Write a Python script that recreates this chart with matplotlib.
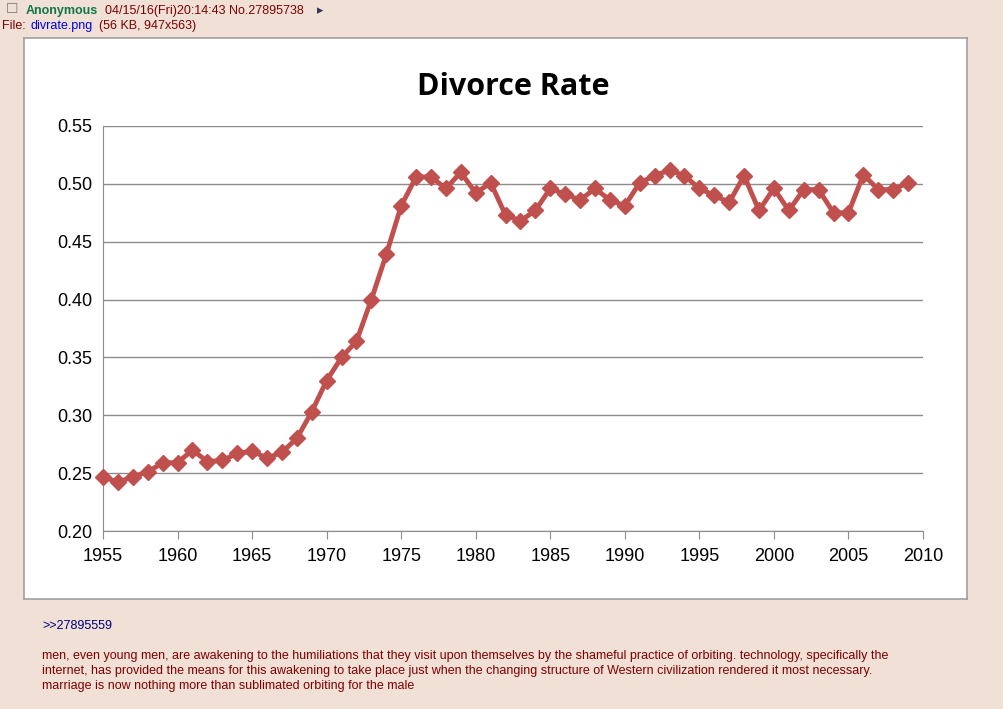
import matplotlib.pyplot as plt

years = list(range(1955, 2010))
rates = [0.247, 0.242, 0.247, 0.251, 0.259, 0.259, 0.270, 0.260, 0.261, 0.267,
         0.269, 0.263, 0.268, 0.280, 0.303, 0.330, 0.350, 0.364, 0.400, 0.439,
         0.481, 0.506, 0.506, 0.496, 0.510, 0.492, 0.501, 0.473, 0.468, 0.477,
         0.496, 0.491, 0.486, 0.496, 0.486, 0.481, 0.501, 0.507, 0.512, 0.507,
         0.496, 0.490, 0.484, 0.507, 0.477, 0.496, 0.477, 0.495, 0.495, 0.475,
         0.475, 0.508, 0.495, 0.495, 0.501]
x_ticks = list(range(1955, 2011, 5))
y_ticks = [0.20, 0.25, 0.30, 0.35, 0.40, 0.45, 0.50, 0.55]

W, H = 1004, 709
plt.rcParams['font.family'] = 'Liberation Sans'
fig = plt.figure(figsize=(W / 100, H / 100), dpi=100, facecolor='#F0E0D6')

# white image box of the attached chart (drawn as a background axes)
box = fig.add_axes([24 / W, 1 - 599 / H, 943 / W, 561 / H])
box.set_xticks([])
box.set_yticks([])
box.set_facecolor('white')
for s in box.spines.values():
    s.set_color('#A0A0A0')
    s.set_linewidth(1.2)

ax = fig.add_axes([103 / W, 1 - 531 / H, 820 / W, 405 / H])
ax.set_facecolor('none')
ax.plot(years, rates, color='#C0504D', linewidth=3.5, marker='D',
        markersize=8, markerfacecolor='#C0504D', markeredgecolor='#C0504D',
        zorder=3, clip_on=False)
ax.set_xlim(1955, 2010)
ax.set_ylim(0.20, 0.55)
ax.set_xticks(x_ticks)
ax.set_yticks(y_ticks)
ax.set_yticklabels([f'{v:.2f}' for v in y_ticks])
ax.yaxis.grid(True, color='#8C8C8C', linewidth=1)
ax.set_axisbelow(True)
for s in ['top', 'right']:
    ax.spines[s].set_visible(False)
for s in ['left', 'bottom']:
    ax.spines[s].set_color('#8C8C8C')
ax.tick_params(axis='x', direction='out', length=6, color='#8C8C8C',
               labelsize=13, pad=6)
ax.tick_params(axis='y', length=0, labelsize=13, pad=8)
ax.set_title('Divorce Rate', fontsize=22, fontweight='bold',
             family='Open Sans', pad=22)

# post header and body
fig.text(6 / W, 1 - 9 / H, '\u2610', color='#777777', fontsize=10,
         va='center', family='DejaVu Sans')
fig.text(26 / W, 1 - 11 / H, 'Anonymous', color='#117743', fontweight='bold',
         fontsize=9, va='center')
fig.text(105 / W, 1 - 11 / H, '04/15/16(Fri)20:14:43 No.27895738',
         color='#800000', fontsize=9, va='center')
fig.text(317 / W, 1 - 11 / H, '\u25b8', color='#34345C', fontsize=9,
         va='center', family='DejaVu Sans')
fig.text(2 / W, 1 - 26 / H, 'File:', color='#800000', fontsize=9, va='center')
fig.text(31 / W, 1 - 26 / H, 'divrate.png', color='#0000EE', fontsize=9,
         va='center')
fig.text(99 / W, 1 - 26 / H, '(56 KB, 947x563)', color='#800000',
         fontsize=9, va='center')
fig.text(42 / W, 1 - 626 / H, '>>27895559', color='#000080', fontsize=9,
         va='center')
body = ['men, even young men, are awakening to the humiliations that they visit upon themselves by the shameful practice of orbiting. technology, specifically the',
        'internet, has provided the means for this awakening to take place just when the changing structure of Western civilization rendered it most necessary.',
        'marriage is now nothing more than sublimated orbiting for the male']
for i, line in enumerate(body):
    fig.text(42 / W, 1 - (656 + 15 * i) / H, line, color='#800000',
             fontsize=9, va='center')

fig.savefig('out.png', dpi=100, facecolor=fig.get_facecolor())
